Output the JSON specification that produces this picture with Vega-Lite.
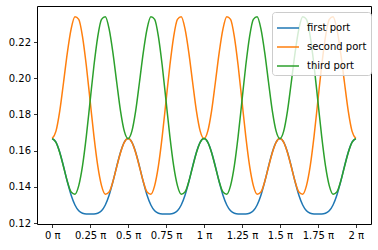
{
  "$schema": "https://vega.github.io/schema/vega-lite/v6.json",
  "width": 334,
  "height": 218,
  "autosize": {"type": "none"},
  "padding": {"left": 37, "top": 6, "right": 7, "bottom": 26},
  "config": {
    "font": "DejaVu Sans",
    "view": {"stroke": "#000000", "strokeWidth": 1},
    "axis": {
      "domain": false,
      "grid": false,
      "tickColor": "#000000",
      "tickSize": 3.5,
      "tickWidth": 0.8,
      "labelColor": "#000000",
      "labelFontSize": 10,
      "labelPadding": 3,
      "title": null
    }
  },
  "data": {
    "values": [
      {"x": 0, "first port": 0.1667, "second port": 0.1667, "third port": 0.1667},
      {"x": 0.025, "first port": 0.1647, "second port": 0.1708, "third port": 0.1646},
      {"x": 0.05, "first port": 0.1591, "second port": 0.182, "third port": 0.1589},
      {"x": 0.075, "first port": 0.1513, "second port": 0.1978, "third port": 0.151},
      {"x": 0.1, "first port": 0.1428, "second port": 0.2142, "third port": 0.143},
      {"x": 0.125, "first port": 0.1354, "second port": 0.2273, "third port": 0.1372},
      {"x": 0.15, "first port": 0.13, "second port": 0.234, "third port": 0.136},
      {"x": 0.175, "first port": 0.1268, "second port": 0.2325, "third port": 0.1407},
      {"x": 0.2, "first port": 0.1254, "second port": 0.2229, "third port": 0.1517},
      {"x": 0.225, "first port": 0.125, "second port": 0.2069, "third port": 0.168},
      {"x": 0.25, "first port": 0.125, "second port": 0.1875, "third port": 0.1875},
      {"x": 0.275, "first port": 0.125, "second port": 0.168, "third port": 0.2069},
      {"x": 0.3, "first port": 0.1254, "second port": 0.1517, "third port": 0.2229},
      {"x": 0.325, "first port": 0.1268, "second port": 0.1407, "third port": 0.2325},
      {"x": 0.35, "first port": 0.13, "second port": 0.136, "third port": 0.234},
      {"x": 0.375, "first port": 0.1354, "second port": 0.1372, "third port": 0.2273},
      {"x": 0.4, "first port": 0.1428, "second port": 0.143, "third port": 0.2142},
      {"x": 0.425, "first port": 0.1513, "second port": 0.151, "third port": 0.1978},
      {"x": 0.45, "first port": 0.1591, "second port": 0.1589, "third port": 0.182},
      {"x": 0.475, "first port": 0.1647, "second port": 0.1646, "third port": 0.1708},
      {"x": 0.5, "first port": 0.1667, "second port": 0.1667, "third port": 0.1667},
      {"x": 0.525, "first port": 0.1647, "second port": 0.1646, "third port": 0.1708},
      {"x": 0.55, "first port": 0.1591, "second port": 0.1589, "third port": 0.182},
      {"x": 0.575, "first port": 0.1513, "second port": 0.151, "third port": 0.1978},
      {"x": 0.6, "first port": 0.1428, "second port": 0.143, "third port": 0.2142},
      {"x": 0.625, "first port": 0.1354, "second port": 0.1372, "third port": 0.2273},
      {"x": 0.65, "first port": 0.13, "second port": 0.136, "third port": 0.234},
      {"x": 0.675, "first port": 0.1268, "second port": 0.1407, "third port": 0.2325},
      {"x": 0.7, "first port": 0.1254, "second port": 0.1517, "third port": 0.2229},
      {"x": 0.725, "first port": 0.125, "second port": 0.168, "third port": 0.2069},
      {"x": 0.75, "first port": 0.125, "second port": 0.1875, "third port": 0.1875},
      {"x": 0.775, "first port": 0.125, "second port": 0.2069, "third port": 0.168},
      {"x": 0.8, "first port": 0.1254, "second port": 0.2229, "third port": 0.1517},
      {"x": 0.825, "first port": 0.1268, "second port": 0.2325, "third port": 0.1407},
      {"x": 0.85, "first port": 0.13, "second port": 0.234, "third port": 0.136},
      {"x": 0.875, "first port": 0.1354, "second port": 0.2273, "third port": 0.1372},
      {"x": 0.9, "first port": 0.1428, "second port": 0.2142, "third port": 0.143},
      {"x": 0.925, "first port": 0.1513, "second port": 0.1978, "third port": 0.151},
      {"x": 0.95, "first port": 0.1591, "second port": 0.182, "third port": 0.1589},
      {"x": 0.975, "first port": 0.1647, "second port": 0.1708, "third port": 0.1646},
      {"x": 1, "first port": 0.1667, "second port": 0.1667, "third port": 0.1667},
      {"x": 1.025, "first port": 0.1647, "second port": 0.1708, "third port": 0.1646},
      {"x": 1.05, "first port": 0.1591, "second port": 0.182, "third port": 0.1589},
      {"x": 1.075, "first port": 0.1513, "second port": 0.1978, "third port": 0.151},
      {"x": 1.1, "first port": 0.1428, "second port": 0.2142, "third port": 0.143},
      {"x": 1.125, "first port": 0.1354, "second port": 0.2273, "third port": 0.1372},
      {"x": 1.15, "first port": 0.13, "second port": 0.234, "third port": 0.136},
      {"x": 1.175, "first port": 0.1268, "second port": 0.2325, "third port": 0.1407},
      {"x": 1.2, "first port": 0.1254, "second port": 0.2229, "third port": 0.1517},
      {"x": 1.225, "first port": 0.125, "second port": 0.2069, "third port": 0.168},
      {"x": 1.25, "first port": 0.125, "second port": 0.1875, "third port": 0.1875},
      {"x": 1.275, "first port": 0.125, "second port": 0.168, "third port": 0.2069},
      {"x": 1.3, "first port": 0.1254, "second port": 0.1517, "third port": 0.2229},
      {"x": 1.325, "first port": 0.1268, "second port": 0.1407, "third port": 0.2325},
      {"x": 1.35, "first port": 0.13, "second port": 0.136, "third port": 0.234},
      {"x": 1.375, "first port": 0.1354, "second port": 0.1372, "third port": 0.2273},
      {"x": 1.4, "first port": 0.1428, "second port": 0.143, "third port": 0.2142},
      {"x": 1.425, "first port": 0.1513, "second port": 0.151, "third port": 0.1978},
      {"x": 1.45, "first port": 0.1591, "second port": 0.1589, "third port": 0.182},
      {"x": 1.475, "first port": 0.1647, "second port": 0.1646, "third port": 0.1708},
      {"x": 1.5, "first port": 0.1667, "second port": 0.1667, "third port": 0.1667},
      {"x": 1.525, "first port": 0.1647, "second port": 0.1646, "third port": 0.1708},
      {"x": 1.55, "first port": 0.1591, "second port": 0.1589, "third port": 0.182},
      {"x": 1.575, "first port": 0.1513, "second port": 0.151, "third port": 0.1978},
      {"x": 1.6, "first port": 0.1428, "second port": 0.143, "third port": 0.2142},
      {"x": 1.625, "first port": 0.1354, "second port": 0.1372, "third port": 0.2273},
      {"x": 1.65, "first port": 0.13, "second port": 0.136, "third port": 0.234},
      {"x": 1.675, "first port": 0.1268, "second port": 0.1407, "third port": 0.2325},
      {"x": 1.7, "first port": 0.1254, "second port": 0.1517, "third port": 0.2229},
      {"x": 1.725, "first port": 0.125, "second port": 0.168, "third port": 0.2069},
      {"x": 1.75, "first port": 0.125, "second port": 0.1875, "third port": 0.1875},
      {"x": 1.775, "first port": 0.125, "second port": 0.2069, "third port": 0.168},
      {"x": 1.8, "first port": 0.1254, "second port": 0.2229, "third port": 0.1517},
      {"x": 1.825, "first port": 0.1268, "second port": 0.2325, "third port": 0.1407},
      {"x": 1.85, "first port": 0.13, "second port": 0.234, "third port": 0.136},
      {"x": 1.875, "first port": 0.1354, "second port": 0.2273, "third port": 0.1372},
      {"x": 1.9, "first port": 0.1428, "second port": 0.2142, "third port": 0.143},
      {"x": 1.925, "first port": 0.1513, "second port": 0.1978, "third port": 0.151},
      {"x": 1.95, "first port": 0.1591, "second port": 0.182, "third port": 0.1589},
      {"x": 1.975, "first port": 0.1647, "second port": 0.1708, "third port": 0.1646},
      {"x": 2, "first port": 0.1667, "second port": 0.1667, "third port": 0.1667}
    ]
  },
  "transform": [
    {"fold": ["first port", "second port", "third port"], "as": ["series", "value"]}
  ],
  "mark": {"type": "line", "interpolate": "monotone", "strokeWidth": 1.5},
  "encoding": {
    "x": {
      "field": "x",
      "type": "quantitative",
      "scale": {"domain": [-0.1, 2.1], "nice": false, "zero": false},
      "axis": {
        "values": [0, 0.25, 0.5, 0.75, 1, 1.25, 1.5, 1.75, 2],
        "labelExpr": "datum.value + ' π'",
        "labelFlush": false,
        "labelOverlap": false
      }
    },
    "y": {
      "field": "value",
      "type": "quantitative",
      "scale": {"domain": [0.1195, 0.2399], "nice": false, "zero": false},
      "axis": {
        "values": [0.12, 0.14, 0.16, 0.18, 0.2, 0.22],
        "format": ".2f",
        "labelFlush": false,
        "labelOverlap": false
      }
    },
    "color": {
      "field": "series",
      "type": "nominal",
      "scale": {
        "domain": ["first port", "second port", "third port"],
        "range": ["#1f77b4", "#ff7f0e", "#2ca02c"]
      },
      "legend": {
        "title": null,
        "orient": "none",
        "legendX": 235,
        "legendY": 6,
        "fillColor": "rgba(255,255,255,0.8)",
        "strokeColor": "#cccccc",
        "cornerRadius": 3,
        "padding": 4,
        "symbolType": "stroke",
        "symbolSize": 484,
        "symbolStrokeWidth": 1.5,
        "symbolOpacity": 1,
        "labelFontSize": 10,
        "labelColor": "#000000",
        "labelOffset": 7,
        "rowPadding": 2
      }
    }
  }
}
